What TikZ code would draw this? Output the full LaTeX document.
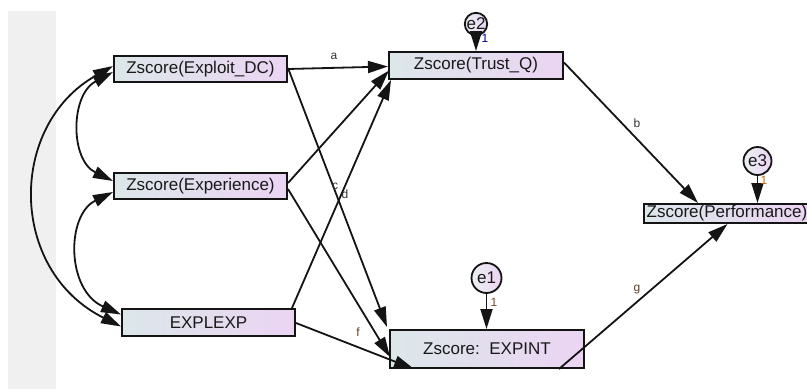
\documentclass[tikz,border=0pt]{standalone}
\usepackage{fontspec}
\setmainfont{Liberation Sans}
\usetikzlibrary{arrows.meta,calc}

\definecolor{boxL}{HTML}{DCE7E9}
\definecolor{boxR}{HTML}{EBD4F3}
\definecolor{strip}{HTML}{F0F0F0}
\definecolor{edge}{HTML}{141414}
\definecolor{lbl}{HTML}{333333}

\tikzset{
  var/.style={draw=edge, line width=2pt, rectangle, inner sep=0pt,
    left color=boxL, right color=boxR,
    font=\fontsize{17}{20}\selectfont, text=black!90},
  err/.style={draw=edge, line width=1.8pt, circle, inner sep=0pt,
    left color=boxL!60!white, right color=boxR,
    font=\fontsize{17}{20}\selectfont, text=black!90},
  path/.style={draw=edge, line width=1.8pt,
    -{Triangle[length=20pt,width=12pt]}},
  cov/.style={draw=edge, line width=1.8pt,
    {Triangle[length=20pt,width=12pt]}-{Triangle[length=20pt,width=12pt]}},
  coef/.style={font=\fontsize{12}{13}\selectfont, text=lbl, inner sep=0pt},
}

\begin{document}
\begin{tikzpicture}[x=1pt, y=-1pt]
  % canvas and page frame
  \clip (0,0) rectangle (807,389);
  \fill[white] (0,0) rectangle (807,389);
  \fill[strip] (8,11) rectangle (56,389);

  % observed variables
  \node[var, minimum width=173pt, minimum height=26pt] (ex) at (200.5,69) {Zscore(Exploit\_DC)};
  \node[var, minimum width=173pt, minimum height=26pt] (xp) at (200.5,186) {Zscore(Experience)};
  \node[var, minimum width=173pt, minimum height=27pt] (ee) at (208.5,322.5) {EXPLEXP};
  \node[var, minimum width=174pt, minimum height=27pt] (tq) at (476,65.5) {Zscore(Trust\_Q)};
  \node[var, minimum width=194pt, minimum height=38pt] (ei) at (487,349) {Zscore:\ \ EXPINT};
  \node[var, minimum width=167pt, minimum height=19pt] (pf) at (727.5,213.5) {\hspace*{-1pt}Zscore(Performance)};

  % error terms
  \node[err, minimum size=20pt] (e2) at (476,24) {e2};
  \node[err, minimum size=30pt] (e1) at (486.5,278) {e1};
  \node[err, minimum size=28pt] (e3) at (757.5,161) {e3};

  % residual paths
  \draw[path] (e2) -- (tq.north);
  \draw[path] (e1) -- (e1 |- ei.north);
  \draw[path] (e3) -- (e3 |- pf.north);
  \node[coef, text=blue!60!black] (l2) at (485,38) {1};
  \node[coef, text=brown!60!black] (l1) at (494,302) {1};
  \node[coef, text=orange!80!black] (l3) at (764,180) {1};

  % regression paths
  \draw[path] (ex.east) -- ($(tq.west)+(0,1)$);
  \draw[path] ($(ex.east)+(0,-1)$) -- ($(ei.north west)+(-2,-2)$);
  \draw[path] ($(xp.east)+(0,-3)$) -- ($(tq.west)+(1,5)$);
  \draw[path] ($(xp.east)+(0,3)$) -- ($(ei.west)+(1,8)$);
  \draw[path] ($(ee.north east)+(-4,0)$) -- ($(tq.south west)+(3,0)$);
  \draw[path] ($(ee.east)+(0,0.5)$) -- ($(ei.south west)+(25,0)$);
  \draw[path] ($(tq.east)+(0,-3)$) -- ($(pf.north)+(-29.5,0)$);
  \draw[path] ($(ei.south east)+(-26,0)$) -- (pf.south);

  \node[coef] (la) at (334,56) {a};
  \node[coef] (lb) at (637,123) {b};
  \node[coef] (lc) at (335,186) {c};
  \node[coef] (ld) at (345,194) {d};
  \node[coef, text=brown!50!black] (lf) at (358,332) {f};
  \node[coef, text=brown!50!black] (lg) at (637,290) {g};

  % covariances between exogenous variables
  \draw[cov] ($(ex.west)+(0,3)$) .. controls (70,95) and (70,160) .. ($(xp.west)+(0,-5)$);
  \draw[cov] ($(xp.west)+(0,6)$) .. controls (66,215) and (66,290) .. ($(ee.west)+(0,-8)$);
  \draw[cov] ($(ex.west)+(0,-3)$) .. controls (8,125) and (8,270) .. ($(ee.west)+(0,4)$);
\end{tikzpicture}
\end{document}
